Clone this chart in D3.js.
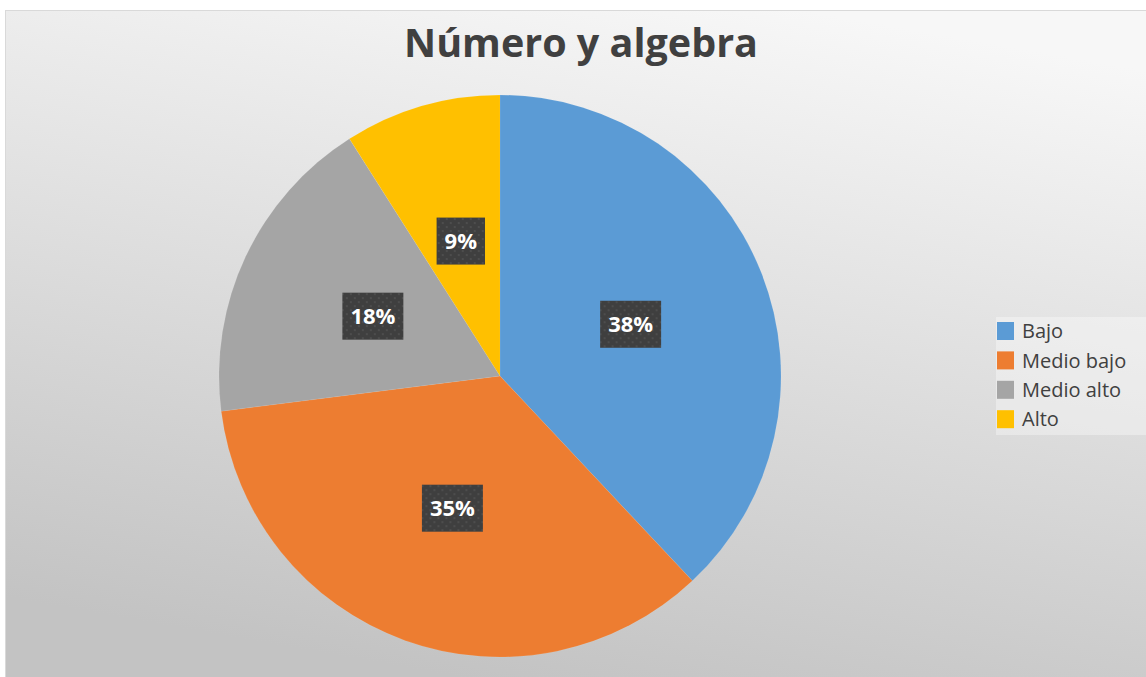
<!DOCTYPE html>
<html>
<head>
<meta charset="utf-8">
<script src="https://cdn.jsdelivr.net/npm/d3@7"></script>
<style>
  html, body { margin: 0; padding: 0; background: #ffffff; }
  svg { display: block; }
</style>
</head>
<body>
<svg id="chart" width="1146" height="677"></svg>
<script>
// Data
const title = "Número y algebra";
const categories = ["Bajo", "Medio bajo", "Medio alto", "Alto"];
const values = [38, 35, 18, 9];
const colors = ["#5b9bd5", "#ed7d31", "#a5a5a5", "#ffc000"];

const W = 1146, H = 677;
const svg = d3.select("#chart");
const defs = svg.append("defs");

// Background gradient of the chart area
const bg = defs.append("linearGradient")
  .attr("id", "bgGrad")
  .attr("x1", "70%").attr("y1", "0%")
  .attr("x2", "40%").attr("y2", "100%");
bg.append("stop").attr("offset", "0%").attr("stop-color", "#f7f7f7");
bg.append("stop").attr("offset", "100%").attr("stop-color", "#c3c3c3");

// Dotted dark fill for the data labels
const pat = defs.append("pattern")
  .attr("id", "dots")
  .attr("patternUnits", "userSpaceOnUse")
  .attr("width", 8).attr("height", 8);
pat.append("rect").attr("width", 8).attr("height", 8).attr("fill", "#3f3f3f");
pat.append("circle").attr("cx", 2).attr("cy", 2).attr("r", 0.9).attr("fill", "#545454");
pat.append("circle").attr("cx", 6).attr("cy", 6).attr("r", 0.9).attr("fill", "#545454");

// Chart area
svg.append("rect")
  .attr("x", 5.5).attr("y", 10.5)
  .attr("width", W - 5).attr("height", H - 10)
  .attr("fill", "url(#bgGrad)")
  .attr("stroke", "#d9d9d9")
  .attr("stroke-width", 1);

// Title
svg.append("text")
  .attr("x", 581).attr("y", 57)
  .attr("text-anchor", "middle")
  .attr("font-family", "'Open Sans', sans-serif")
  .attr("font-weight", "bold")
  .attr("font-size", 39.5)
  .attr("fill", "#404040")
  .text(title);

// Pie
const cx = 500, cy = 376, r = 281;
const pie = d3.pie().sort(null).value(d => d.value);
const arcs = pie(categories.map((c, i) => ({ name: c, value: values[i] })));
const arc = d3.arc().innerRadius(0).outerRadius(r);
const labelArc = d3.arc().innerRadius(r * 0.5).outerRadius(r * 0.5);
const color = d3.scaleOrdinal().domain(categories).range(colors);

const g = svg.append("g").attr("transform", `translate(${cx},${cy})`);
g.selectAll("path.slice")
  .data(arcs)
  .join("path")
  .attr("class", "slice")
  .attr("d", arc)
  .attr("fill", d => color(d.data.name))
  .attr("stroke", "rgba(255,255,255,0.15)")
  .attr("stroke-width", 0.5);

// Data labels
const total = d3.sum(values);
const fmt = d3.format(".0%");
const labels = g.selectAll("g.lbl")
  .data(arcs)
  .join("g")
  .attr("class", "lbl")
  .attr("transform", d => `translate(${labelArc.centroid(d)})`);

labels.each(function(d) {
  const sel = d3.select(this);
  const rect = sel.append("rect");
  const t = sel.append("text")
    .attr("text-anchor", "middle")
    .attr("dy", "0.36em")
    .attr("font-family", "'Open Sans', sans-serif")
    .attr("font-weight", "bold")
    .attr("font-size", 22)
    .attr("fill", "#ffffff")
    .text(fmt(d.data.value / total));
  const w = t.node().getComputedTextLength() + 16;
  const h = 47;
  rect.attr("x", -w / 2).attr("y", -h / 2)
    .attr("width", w).attr("height", h)
    .attr("fill", "url(#dots)");
});

// Legend
const lg = svg.append("g").attr("transform", "translate(996,317)");
lg.append("rect")
  .attr("x", 0).attr("y", 0)
  .attr("width", W - 996).attr("height", 118)
  .attr("fill", "#ffffff").attr("fill-opacity", 0.35);

const rowH = 29.4;
const items = lg.selectAll("g.item")
  .data(categories)
  .join("g")
  .attr("class", "item")
  .attr("transform", (d, i) => `translate(1,${5 + i * rowH})`);
items.append("rect")
  .attr("width", 17).attr("height", 18)
  .attr("fill", d => color(d));
items.append("text")
  .attr("x", 25).attr("y", 9)
  .attr("dy", "0.36em")
  .attr("font-family", "'Open Sans', sans-serif")
  .attr("font-size", 20)
  .attr("fill", "#404040")
  .text(d => d);
</script>
</body>
</html>
